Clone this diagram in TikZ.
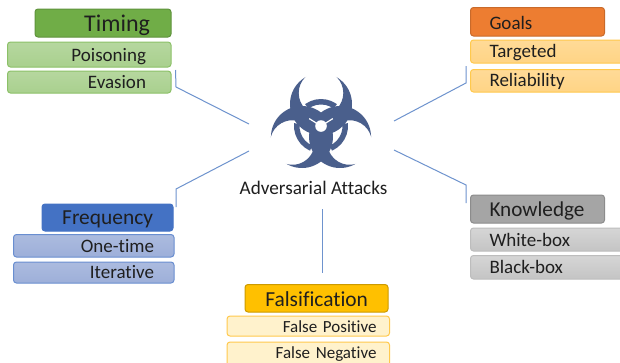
\documentclass[tikz,border=0pt]{standalone}
\usepackage{fontspec}
\setmainfont{Carlito}[Ligatures=CommonOff]
\usetikzlibrary{calc}
\definecolor{linkc}{HTML}{6E93CE}
\definecolor{bio}{HTML}{4A5F8C}
\definecolor{txt}{HTML}{1F1F1F}
\tikzset{
  bx/.style={rounded corners=3pt,line width=1pt,inner sep=0pt,text=txt,outer sep=0pt},
  link/.style={draw=linkc,line width=1pt},
  hgreen/.style={bx,draw=HG!85!black,fill=HG},
  sgreen/.style={bx,draw=HGb,top color=HGs!85!white,bottom color=HGs},
  horange/.style={bx,draw=HO!85!black,fill=HO},
  syellow/.style={bx,draw=YB,top color=YS!85!white,bottom color=YS},
  hblue/.style={bx,draw=HB,fill=HB},
  sblue/.style={bx,draw=HB!80!white,top color=BS!85!white,bottom color=BS},
  hgold/.style={bx,draw=HY!80!black,fill=HY},
  scream/.style={bx,draw=YB,fill=CR},
  hgrey/.style={bx,draw=HGr!85!black,fill=HGr},
  sgrey/.style={bx,draw=GrB,top color=GrS!70!white,bottom color=GrS},
}
\definecolor{HG}{HTML}{70AD47}\definecolor{HGb}{HTML}{8CC168}\definecolor{HGs}{HTML}{A9D08E}
\definecolor{HO}{HTML}{ED7D31}\definecolor{YB}{HTML}{FFC94D}\definecolor{YS}{HTML}{FFD485}
\definecolor{HB}{HTML}{4472C4}\definecolor{BS}{HTML}{9DAFD9}
\definecolor{HY}{HTML}{FFC000}\definecolor{CR}{HTML}{FFF2CC}
\definecolor{HGr}{HTML}{A5A5A5}\definecolor{GrB}{HTML}{BDBDBD}\definecolor{GrS}{HTML}{C4C4C4}
% #1 style #2 name #3 x0 #4 y0 #5 x1 #6 y1 #7 size #8 text with spacing
\newcommand{\boxnode}[8]{%
  \node[#1,minimum width={(#5-#3)*1pt},minimum height={(#6-#4)*1pt},text width={(#5-#3)*1pt},anchor=center,font=\fontsize{#7}{#7}\selectfont]
    (#2) at ({(#3+#5)/2},{(#4+#6)/2}) {#8};}
% text, padding, baseline offset below the box centre
\newcommand{\rtxt}[3]{\hfill\raisebox{-#3pt}[0pt][0pt]{#1}\hspace*{#2pt}}
\newcommand{\ltxt}[3]{\hspace*{#2pt}\raisebox{-#3pt}[0pt][0pt]{#1}\hfill\null}
\begin{document}
\begin{tikzpicture}[x=1pt,y=-1pt]
\clip (0,0) rectangle (620,362);
\fill[white] (0,0) rectangle (620,362);
% boxes
\boxnode{hgreen}{timing}{35}{9}{171}{37}{24}{\rtxt{Timing}{21}{8.7}}
\boxnode{sgreen}{pois}{7.5}{42}{171}{67}{19}{\rtxt{Poisoning}{25}{6.5}}
\boxnode{sgreen}{evas}{7.5}{71}{171}{93}{19}{\rtxt{Evasion}{25}{6.5}}
\boxnode{horange}{goals}{470.5}{7.5}{604.5}{36}{19}{\ltxt{Goals}{19}{8}}
\boxnode{syellow}{targ}{470.5}{40}{630}{63}{19}{\ltxt{Targeted}{19}{5.8}}
\boxnode{syellow}{reli}{470.5}{69.5}{630}{92}{19}{\ltxt{Reliability}{19}{5.3}}
\boxnode{hgrey}{know}{470.5}{195}{604.5}{223}{21.2}{\ltxt{Knowledge}{19}{7}}
\boxnode{sgrey}{white}{470.5}{228}{630}{251}{19}{\ltxt{White-box}{19}{6.5}}
\boxnode{sgrey}{black}{470.5}{255.5}{630}{279}{19}{\ltxt{Black-box}{19}{6}}
\boxnode{hblue}{freq}{42}{204}{173}{231}{21.4}{\rtxt{Frequency}{20}{6.9}}
\boxnode{sblue}{once}{13.5}{234.5}{174}{257}{19}{\rtxt{One-time}{20}{6.8}}
\boxnode{sblue}{iter}{13.5}{262}{174}{283}{19}{\rtxt{Iterative}{20}{6}}
\boxnode{hgold}{fals}{245}{284.5}{388}{312}{21.4}{\rtxt{Falsification}{20}{8}}
\boxnode{scream}{fpos}{227}{316}{389.5}{336}{17}{\rtxt{False Positive}{13}{6.5}}
\boxnode{scream}{fneg}{227}{342}{389.5}{367}{17}{\rtxt{False Negative}{13}{4.2}}
% title
\node[inner sep=0pt,text=txt,font=\fontsize{19.2}{19.2}\selectfont] (title) at (313.5,187.5) {Adversarial Attacks};
% connectors
\coordinate (a1) at (175.5,70);\coordinate (a2) at (176,87);\coordinate (a3) at (249,124);
\coordinate (b1) at (466,66);\coordinate (b2) at (466,83);\coordinate (b3) at (394,121);
\coordinate (c1) at (176,207);\coordinate (c2) at (176,189);\coordinate (c3) at (249,151);
\coordinate (d1) at (466,203);\coordinate (d2) at (466,185);\coordinate (d3) at (394,150);
\coordinate (e1) at (322.5,209);\coordinate (e2) at (322.5,273);
\draw[link] (a1) -- (a2) -- (a3);
\draw[link] (b1) -- (b2) -- (b3);
\draw[link] (c1) -- (c2) -- (c3);
\draw[link] (d1) -- (d2) -- (d3);
\draw[link] (e1) -- (e2);
% biohazard symbol
\begin{scope}[shift={(321,126)}]
  % white halo
  \foreach \a in {0,120,240}{
    \begin{scope}[rotate=\a]
      \clip (0,-22) circle (32.5);
      \fill[white,even odd rule] (-80,-80) rectangle (80,80) (0,-33) circle (20.5);
    \end{scope}
  }
  % ring seen through the holes of the lobes
  \foreach \a in {0,120,240}{
    \begin{scope}[rotate=\a]
      \clip (0,-33) circle (19.5);
      \fill[bio,even odd rule] (0,0) circle (27) (0,0) circle (21.5);
    \end{scope}
  }
  % crescents
  \foreach \a in {0,120,240}{
    \begin{scope}[rotate=\a]
      \clip (0,-22) circle (31);
      \fill[bio,even odd rule] (-80,-80) rectangle (80,80) (0,-33) circle (22.3);
    \end{scope}
  }
  \fill[white] (0,0) circle (5.8);
  \foreach \a in {32,148}{
    \draw[white,line width=1.2pt] (0,0) -- (-\a:14);
  }
\end{scope}
\end{tikzpicture}
\end{document}
